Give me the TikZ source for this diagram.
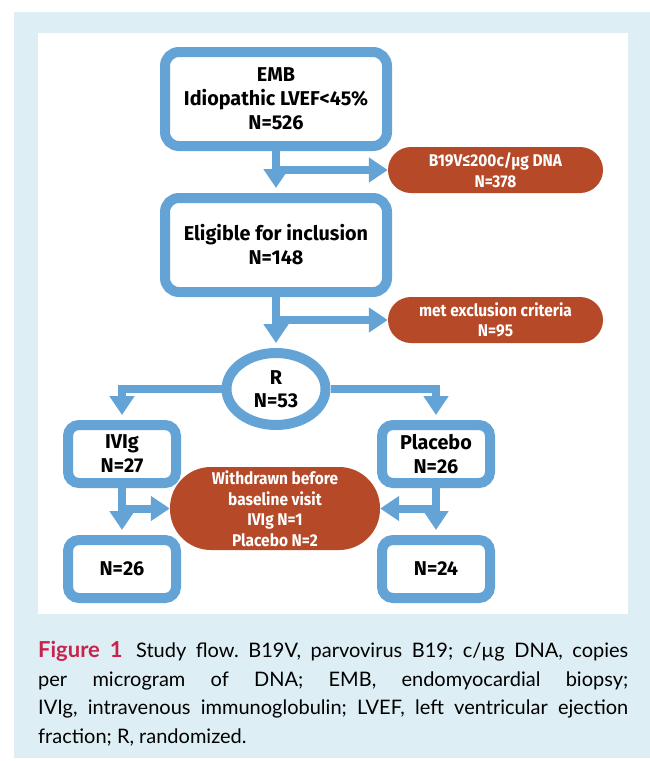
\documentclass[tikz,border=0pt]{standalone}
\usepackage{fontspec}
\setmainfont{Lato}
\newfontfamily\flowfont[FakeStretch=0.99]{Fira Sans}
\newfontfamily\pillfont[FakeStretch=0.91]{Fira Sans}
\usetikzlibrary{arrows.meta,shapes.geometric}
\definecolor{boxblue}{HTML}{64A3D6}
\definecolor{brick}{HTML}{B54928}
\definecolor{panel}{HTML}{DDEFF4}
\definecolor{figred}{HTML}{C8234E}
\tikzset{
  bluebox/.style={draw=boxblue, line width=10pt, fill=white, rounded corners=14pt, inner sep=0pt, align=center,
    font=\flowfont\bfseries\fontsize{20}{24}\selectfont},
  smallbox/.style={bluebox, rounded corners=11pt, minimum width=108pt, minimum height=58pt},
  pill/.style={fill=brick, text=white, inner sep=0pt, align=center,
    font=\pillfont\bfseries\fontsize{17}{20.5}\selectfont},
  flow/.style={draw=boxblue, line width=8pt, -{Triangle[width=24pt,length=19pt]}},
  flowbox/.style={flow, shorten >=5pt},
}
\begin{document}
\begin{tikzpicture}[x=1pt,y=-1pt]
\useasboundingbox (0,0) rectangle (650,761);
\fill[panel] (14,12) rectangle (650,758);
\fill[white] (38,33) rectangle (628,614);
% boxes
\node[bluebox, minimum width=222pt, minimum height=94pt] (emb) at (276,99) {EMB\\Idiopathic LVEF<45\%\\N=526};
\node[bluebox, minimum width=222pt, minimum height=94pt] (elig) at (276,245) {Eligible for inclusion\\N=148};
\node[pill, minimum width=215pt, minimum height=46pt, rounded corners=23pt] (b19) at (495.5,170) {B19V≤200c/µg DNA\\N=378};
\node[pill, minimum width=215pt, minimum height=46pt, rounded corners=23pt] (excl) at (495.5,320) {met exclusion criteria\\N=95};
\node[ellipse, draw=boxblue, line width=10pt, fill=white, inner sep=0pt, minimum width=99pt, minimum height=72pt,
  align=center, font=\flowfont\bfseries\fontsize{20}{23}\selectfont] (r) at (276,389) {R\\N=53};
\node[smallbox] (ivig) at (122,454) {IVIg\\N=27};
\node[smallbox] (plac) at (436,454) {Placebo\\N=26};
\node[smallbox] (n26) at (122,569) {N=26};
\node[smallbox] (n24) at (436,569) {N=24};
\node[pill, minimum width=210pt, minimum height=83pt, rounded corners=41pt] (wd) at (275,508.5)
  {Withdrawn before\\baseline visit\\IVIg N=1\\Placebo N=2};
% connectors
\draw[flowbox] (emb.south) -- (elig.north);
\draw[flow] (emb.south |- b19.west) -- (b19.west);
\draw[flowbox] (elig.south) -- (r.north);
\draw[flow] (elig.south |- excl.west) -- (excl.west);
\draw[flowbox] (r.west) -| (ivig.north);
\draw[flowbox] (r.east) -| (plac.north);
\draw[flowbox] (ivig.south) -- (n26.north);
\draw[flowbox] (plac.south) -- (n24.north);
\draw[flow] (ivig.south |- wd.west) -- (wd.west);
\draw[flow] (plac.south |- wd.east) -- (wd.east);
% caption
\node[anchor=north west, text width=590pt, inner sep=0pt, align=justify,
  font=\fontsize{20}{28.5}\selectfont\frenchspacing] (cap) at (38,641)
  {{\color{figred}\bfseries\fontsize{22}{28.5}\selectfont Figure 1}\hspace{0.2em} Study flow. B19V, parvovirus B19; c/µg DNA, copies\linebreak
   per microgram of DNA; EMB, endomyocardial biopsy;\linebreak
   IVIg, intravenous immunoglobulin; LVEF, left ventricular ejection\linebreak
   fraction; R, randomized.};
\end{tikzpicture}
\end{document}
